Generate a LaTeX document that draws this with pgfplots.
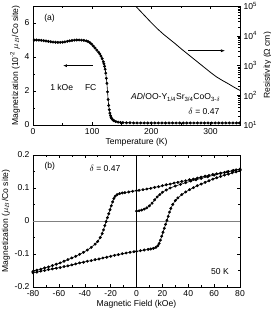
\documentclass[border=0pt]{standalone}
\usepackage{fontspec}
\setmainfont{Liberation Sans}
\usepackage{pgfplots}
\pgfplotsset{compat=1.18}
\usetikzlibrary{arrows.meta}
\pgfplotsset{
 every axis/.append style={
   scale only axis,
   font=\fontsize{8.6}{10}\selectfont,
   /pgf/number format/assume math mode=true,
   tick align=inside,
   tick style={black, line width=0.5pt},
   major tick length=3.5pt, minor tick length=2pt,
   axis line style={line width=0.7pt},
 }
}
\begin{document}
\begin{tikzpicture}
\path[use as bounding box] (0bp,0bp) rectangle (271bp,312bp);
% ---------------- panel (a) ----------------
\begin{axis}[at={(33bp,187bp)}, anchor=south west, width=207bp, height=119bp,
  xmin=0, xmax=350, ymin=0, ymax=7,
  xtick={0,100,200,300}, minor xtick={50,150,250,350},
  ytick={0,2,4,6}, minor ytick={1,3,5,7}, ytick pos=left,
  xlabel={Temperature (K)},
  ylabel={Magnetization (10\textsuperscript{-2} $\mu_B$/Co site)},
  xlabel style={yshift=3pt}, ylabel style={yshift=-2pt}]
\addplot[black, line width=0.6pt, mark=*, mark size=1.15pt] table {
T M
2 5.00
6 5.00
10 4.99
14 4.98
18 4.96
22 4.94
26 4.92
30 4.90
34 4.88
38 4.87
42 4.86
46 4.86
50 4.87
54 4.89
58 4.92
62 4.95
66 4.97
70 4.99
74 5.00
78 5.00
82 4.99
86 4.98
90 4.95
93 4.91
96 4.85
99 4.76
102 4.64
105 4.52
108 4.40
111 4.28
113 4.18
115 4.05
117 3.90
119 3.72
120 3.60
121 3.45
122 3.28
123 3.05
124 2.75
125 2.45
126 1.95
127 1.50
128 1.15
129 0.90
130 0.70
131 0.55
132 0.45
133 0.38
135 0.30
137 0.25
140 0.20
144 0.17
148 0.15
152 0.14
158 0.13
164 0.13
170 0.12
176 0.12
182 0.12
188 0.12
194 0.12
200 0.12
206 0.12
212 0.12
218 0.12
224 0.12
230 0.12
236 0.12
242 0.12
248 0.12
254 0.12
260 0.12
266 0.12
272 0.12
278 0.12
284 0.12
290 0.12
296 0.12
302 0.12
308 0.12
314 0.12
320 0.12
326 0.12
332 0.12
338 0.12
344 0.12
349 0.12
};
\node[anchor=center] at (axis cs:28,6.3) {(a)};
\node[anchor=center] at (axis cs:48.5,2.22) {1 kOe};
\node[anchor=center] at (axis cs:97.6,2.22) {FC};
\draw[-{Latex[length=4pt,width=3pt]}, line width=0.6pt] (axis cs:101,3.49) -- (axis cs:50.7,3.49);
\draw[-{Latex[length=4pt,width=3pt]}, line width=0.6pt] (axis cs:262.6,4.37) -- (axis cs:324.6,4.37);
\node[anchor=east] at (axis cs:323,1.62) {\textit{AD}/OO-Y\textsubscript{1/4}Sr\textsubscript{3/4}CoO\textsubscript{3-$\delta$}};
\node[anchor=east] at (axis cs:321,0.8) {$\delta$ = 0.47};
\end{axis}
\begin{axis}[at={(33bp,187bp)}, anchor=south west, width=207bp, height=119bp,
  xmin=0, xmax=350, ymode=log, ymin=10, ymax=1e5,
  axis x line=none, axis y line*=right,
  ytick={10,100,1000,10000,100000},
  yticklabels={10\textsuperscript{1},10\textsuperscript{2},10\textsuperscript{3},10\textsuperscript{4},10\textsuperscript{5}},
  ylabel={Resistivity (Ω cm)}]
\addplot[black, line width=0.8pt] table {
T R
165 1.51e5
172 1.07e5
180 7.24e4
190 4.47e4
200 2.75e4
210 1.74e4
220 1.15e4
230 7.94e3
240 5.50e3
250 3.72e3
260 2.57e3
270 1778
280 1230
290 851
300 589
310 417
320 316
330 245
340 186
350 145
};
\end{axis}
% ---------------- panel (b) ----------------
\begin{axis}[at={(33bp,25bp)}, anchor=south west, width=207bp, height=132bp,
  xmin=-80, xmax=80, ymin=-0.2, ymax=0.2,
  xtick={-80,-60,-40,-20,0,20,40,60,80}, minor x tick num=1,
  ytick={-0.2,-0.1,0,0.1,0.2}, minor y tick num=1,
  yticklabel style={/pgf/number format/fixed, /pgf/number format/precision=1},
  xlabel={Magnetic Field (kOe)},
  ylabel={Magnetization ($\mu_B$/Co site)},
  xlabel style={yshift=3pt}, ylabel style={yshift=-2pt}]
\addplot[gray, line width=0.6pt] coordinates {(-80,0) (80,0)};
\addplot[black, line width=0.6pt] coordinates {(0,-0.2) (0,0.2)};
% descending branch
\addplot[black, line width=0.6pt, mark=*, mark size=1.15pt] table {
H M
80 0.157
77 0.155
74 0.152
71 0.150
68 0.147
65 0.145
62 0.143
59 0.141
56 0.138
53 0.136
50 0.133
47 0.130
44 0.127
41 0.125
38 0.122
35 0.120
32 0.117
29 0.115
26 0.112
23 0.110
20 0.107
17 0.104
14 0.102
11 0.099
8 0.097
5 0.095
2 0.093
0 0.092
-3 0.090
-6 0.088
-9 0.086
-11 0.085
-13 0.083
-15 0.080
-16.5 0.075
-17.5 0.068
-18.5 0.058
-19.5 0.046
-20.5 0.034
-21.5 0.022
-22.5 0.010
-23.5 -0.002
-24.5 -0.014
-25.5 -0.027
-26.5 -0.038
-28 -0.050
-30 -0.062
-32 -0.070
-35 -0.080
-38 -0.088
-41 -0.095
-44 -0.101
-47 -0.107
-50 -0.112
-53 -0.117
-56 -0.122
-59 -0.127
-62 -0.131
-65 -0.135
-68 -0.139
-71 -0.142
-74 -0.146
-77 -0.149
-80 -0.153
};
% ascending branch
\addplot[black, line width=0.6pt, mark=*, mark size=1.15pt] table {
H M
-80 -0.157
-77 -0.155
-74 -0.152
-71 -0.150
-68 -0.147
-65 -0.145
-62 -0.143
-59 -0.141
-56 -0.138
-53 -0.136
-50 -0.133
-47 -0.130
-44 -0.127
-41 -0.125
-38 -0.122
-35 -0.120
-32 -0.117
-29 -0.115
-26 -0.112
-23 -0.110
-20 -0.107
-17 -0.104
-14 -0.102
-11 -0.099
-8 -0.097
-5 -0.095
-2 -0.093
0 -0.092
3 -0.090
6 -0.088
9 -0.086
11 -0.085
13 -0.083
15 -0.080
16.5 -0.075
17.5 -0.068
18.5 -0.058
19.5 -0.046
20.5 -0.034
21.5 -0.022
22.5 -0.010
23.5 0.002
24.5 0.014
25.5 0.027
26.5 0.038
28 0.050
30 0.062
32 0.070
35 0.080
38 0.088
41 0.095
44 0.101
47 0.107
50 0.112
53 0.117
56 0.122
59 0.127
62 0.131
65 0.135
68 0.139
71 0.142
74 0.146
77 0.149
80 0.153
};
% virgin curve
\addplot[black, line width=0.6pt, mark=*, mark size=1.15pt] table {
H M
0 0.030
2 0.031
4 0.033
6 0.036
8 0.040
10 0.046
12 0.054
14 0.064
16 0.073
18 0.080
20 0.087
23 0.094
26 0.100
30 0.106
34 0.111
38 0.116
42 0.121
46 0.125
50 0.129
55 0.134
60 0.139
65 0.144
70 0.149
75 0.153
80 0.157
};
\node[anchor=center] at (axis cs:-67,0.165) {(b)};
\node[anchor=center] at (axis cs:-24.4,0.16) {$\delta$ = 0.47};
\node[anchor=east] at (axis cs:74,-0.154) {50 K};
\end{axis}
\end{tikzpicture}
\end{document}
